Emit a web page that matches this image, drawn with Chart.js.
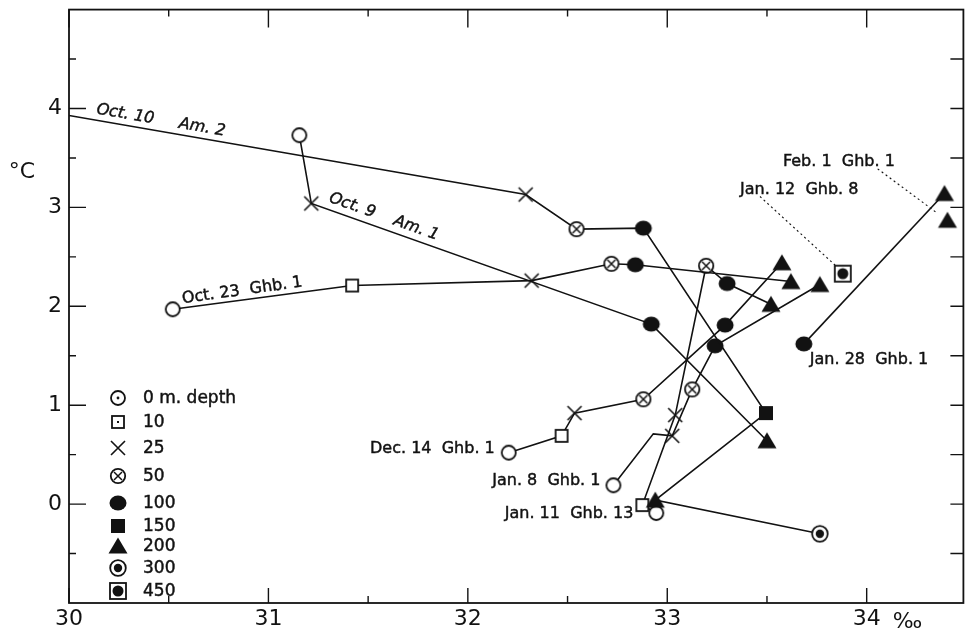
<!DOCTYPE html>
<html>
<head>
<meta charset="utf-8">
<script src="https://cdn.jsdelivr.net/npm/chart.js@4.4.1/dist/chart.umd.min.js"></script>
<style>
html, body { margin: 0; padding: 0; background: #fff; }
</style>
</head>
<body>
<canvas id="chart" width="973" height="635"></canvas>
<script>
// depth classes shown in the key
const depths = [0, 10, 25, 50, 100, 150, 200, 300, 450];
const depthNames = ["0 m. depth", "10", "25", "50", "100", "150", "200", "300", "450"];

// salinity (per mille), temperature (deg C), depth (m); null depth = bend in the line, no marker
const oct10Sal = [30.0, 32.29, 32.545, 32.88, 33.495, 32.94, 33.765];
const oct10Temp = [3.93, 3.13, 2.78, 2.79, 0.92, 0.04, -0.30];
const oct10Depth = [null, 25, 50, 100, 150, 200, 300];

const oct9Sal = [31.155, 31.215, 32.92, 33.50];
const oct9Temp = [3.73, 3.04, 1.82, 0.64];
const oct9Depth = [0, 25, 100, 200];

const oct23Sal = [30.52, 31.42, 32.32, 32.72, 32.84, 33.62];
const oct23Temp = [1.97, 2.21, 2.26, 2.43, 2.42, 2.25];
const oct23Depth = [0, 10, 25, 50, 100, 200];

const dec14Sal = [32.205, 32.47, 32.535, 32.88, 33.29, 33.575];
const dec14Temp = [0.52, 0.69, 0.92, 1.06, 1.81, 2.44];
const dec14Depth = [0, 10, 25, 50, 100, 200];

const jan8Sal = [32.73, 32.93, 33.025, 33.125, 33.24, 33.765];
const jan8Temp = [0.19, 0.71, 0.69, 1.16, 1.60, 2.22];
const jan8Depth = [0, null, 25, 50, 100, 200];

const jan11Sal = [32.945, 32.875, 33.04, 33.195, 33.30, 33.52];
const jan11Temp = [-0.09, -0.01, 0.90, 2.41, 2.23, 2.02];
const jan11Depth = [0, 10, 25, 50, 100, 200];

const jan12Sal = [33.88];
const jan12Temp = [2.33];
const jan12Depth = [450];

const jan28Sal = [33.685, 34.39];
const jan28Temp = [1.62, 3.14];
const jan28Depth = [100, 200];

const feb1Sal = [34.405];
const feb1Temp = [2.87];
const feb1Depth = [200];

// dotted leaders from the two labels to their points
const jan12LeaderSal = [33.465, 33.845];
const jan12LeaderTemp = [3.11, 2.41];
const feb1LeaderSal = [34.055, 34.355];
const feb1LeaderTemp = [3.39, 2.94];

const xTicks = [30, 31, 32, 33, 34];
const yTicks = [0, 1, 2, 3, 4];

const ink = "#121212";
const fontFamily = '"DejaVu Sans", "Liberation Sans", sans-serif';

// station labels, anchored in data units
const notes = [
    { text: "Oct. 10     Am. 2", x: 30.135, y: 3.95, angle: 9.8, align: "left", italic: true },
    { text: "Oct. 9    Am. 1", x: 31.30, y: 3.06, angle: 19.5, align: "left", italic: true },
    { text: "Oct. 23  Ghb. 1", x: 30.57, y: 2.03, angle: -8, align: "left" },
    { text: "Dec. 14  Ghb. 1", x: 32.135, y: 0.52, angle: 0, align: "right" },
    { text: "Jan. 8  Ghb. 1", x: 32.665, y: 0.19, angle: 0, align: "right" },
    { text: "Jan. 11  Ghb. 13", x: 32.83, y: -0.14, angle: 0, align: "right" },
    { text: "Feb. 1  Ghb. 1", x: 33.58, y: 3.42, angle: 0, align: "left" },
    { text: "Jan. 12  Ghb. 8", x: 33.365, y: 3.14, angle: 0, align: "left" },
    { text: "Jan. 28  Ghb. 1", x: 33.715, y: 1.42, angle: 0, align: "left" }
];

function makeMarker(depth, forKey) {
    const c = document.createElement("canvas");
    c.width = 22; c.height = 22;
    const g = c.getContext("2d");
    const m = 11;
    g.strokeStyle = ink; g.fillStyle = ink; g.lineWidth = 1.8;
    if (depth === 0) {
        g.beginPath(); g.arc(m, m, 7, 0, Math.PI * 2);
        g.fillStyle = "#fff"; g.fill(); g.stroke();
        if (forKey) { g.fillStyle = ink; g.beginPath(); g.arc(m, m, 1.4, 0, Math.PI * 2); g.fill(); }
    } else if (depth === 10) {
        g.fillStyle = "#fff"; g.fillRect(m - 6, m - 6, 12, 12);
        g.strokeRect(m - 6, m - 6, 12, 12);
        if (forKey) { g.fillStyle = ink; g.fillRect(m - 1, m - 1, 2, 2); }
    } else if (depth === 25) {
        g.lineWidth = 1.6;
        g.beginPath();
        g.moveTo(m - 7, m - 7); g.lineTo(m + 7, m + 7);
        g.moveTo(m + 7, m - 7); g.lineTo(m - 7, m + 7);
        g.stroke();
    } else if (depth === 50) {
        g.beginPath(); g.arc(m, m, 7.2, 0, Math.PI * 2);
        g.fillStyle = "#fff"; g.fill(); g.stroke();
        g.lineWidth = 1.5;
        g.beginPath();
        g.moveTo(m - 4, m - 4); g.lineTo(m + 4, m + 4);
        g.moveTo(m + 4, m - 4); g.lineTo(m - 4, m + 4);
        g.stroke();
    } else if (depth === 100) {
        g.beginPath(); g.ellipse(m, m, 8.5, 7.5, 0, 0, Math.PI * 2); g.fill();
    } else if (depth === 150) {
        g.fillRect(m - 7, m - 7, 14, 14);
    } else if (depth === 200) {
        g.beginPath();
        g.moveTo(m, m - 8.5); g.lineTo(m + 9.5, m + 7.5); g.lineTo(m - 9.5, m + 7.5);
        g.closePath(); g.fill();
    } else if (depth === 300) {
        g.beginPath(); g.arc(m, m, 7.8, 0, Math.PI * 2);
        g.fillStyle = "#fff"; g.fill(); g.stroke();
        g.fillStyle = ink; g.beginPath(); g.arc(m, m, 4.2, 0, Math.PI * 2); g.fill();
    } else if (depth === 450) {
        g.fillStyle = "#fff"; g.fillRect(m - 8, m - 8, 16, 16);
        g.strokeRect(m - 8, m - 8, 16, 16);
        g.fillStyle = ink; g.beginPath(); g.arc(m, m, 5.5, 0, Math.PI * 2); g.fill();
    }
    return c;
}

const markers = {};
const keyMarkers = {};
depths.forEach(d => { markers[d] = makeMarker(d, false); keyMarkers[d] = makeMarker(d, true); });

function station(label, sal, temp, depth) {
    return {
        label: label,
        data: sal.map((s, i) => ({ x: s, y: temp[i] })),
        showLine: true,
        borderColor: ink,
        borderWidth: 1.6,
        pointStyle: depth.map(d => d === null ? "circle" : markers[d]),
        pointRadius: depth.map(d => d === null ? 0 : 8)
    };
}

function leader(sal, temp) {
    return {
        label: "leader",
        data: sal.map((s, i) => ({ x: s, y: temp[i] })),
        showLine: true,
        borderColor: ink,
        borderWidth: 1.1,
        borderDash: [2, 3],
        pointRadius: 0
    };
}

const datasets = [
    station("Oct. 10 Am. 2", oct10Sal, oct10Temp, oct10Depth),
    station("Oct. 9 Am. 1", oct9Sal, oct9Temp, oct9Depth),
    station("Oct. 23 Ghb. 1", oct23Sal, oct23Temp, oct23Depth),
    station("Dec. 14 Ghb. 1", dec14Sal, dec14Temp, dec14Depth),
    station("Jan. 8 Ghb. 1", jan8Sal, jan8Temp, jan8Depth),
    station("Jan. 11 Ghb. 13", jan11Sal, jan11Temp, jan11Depth),
    station("Jan. 12 Ghb. 8", jan12Sal, jan12Temp, jan12Depth),
    station("Jan. 28 Ghb. 1", jan28Sal, jan28Temp, jan28Depth),
    station("Feb. 1 Ghb. 1", feb1Sal, feb1Temp, feb1Depth),
    leader(jan12LeaderSal, jan12LeaderTemp),
    leader(feb1LeaderSal, feb1LeaderTemp)
];

// slightly heavier text, like pen lettering
function inkText(ctx, text, x, y) {
    ctx.fillText(text, x, y);
    ctx.lineWidth = 0.45;
    ctx.strokeStyle = ink;
    ctx.strokeText(text, x, y);
}

// frame with inward ticks on all four sides
const framePlugin = {
    id: "frame",
    beforeDatasetsDraw(chart) {
        const { ctx, chartArea: a, scales: { x, y } } = chart;
        ctx.save();
        ctx.strokeStyle = ink;
        ctx.lineWidth = 1.8;
        ctx.strokeRect(a.left, a.top, a.right - a.left, a.bottom - a.top);
        ctx.lineWidth = 1.4;
        ctx.beginPath();
        for (let v = 30; v <= 34.5; v += 0.5) {
            const px = x.getPixelForValue(v);
            if (px > a.right - 2) continue;
            const major = Number.isInteger(v);
            ctx.moveTo(px, a.bottom); ctx.lineTo(px, a.bottom - (major ? 15 : 7));
            ctx.moveTo(px, a.top); ctx.lineTo(px, a.top + (major ? 18 : 7));
        }
        for (let v = -0.5; v < 5; v += 0.5) {
            const py = y.getPixelForValue(v);
            const major = Number.isInteger(v);
            ctx.moveTo(a.left, py); ctx.lineTo(a.left + (major ? 17 : 7), py);
            ctx.moveTo(a.right, py); ctx.lineTo(a.right - 13, py);
        }
        ctx.stroke();

        ctx.fillStyle = ink;
        ctx.font = "22px " + fontFamily;
        ctx.textBaseline = "middle";
        ctx.textAlign = "center";
        ctx.fillText("\u00B0C", 22, 172);
        ctx.textAlign = "left";
        ctx.textBaseline = "alphabetic";
        ctx.fillText("\u2030", x.getPixelForValue(34) + 26, a.bottom + 25);
        ctx.restore();
    },
    afterDatasetsDraw(chart) {
        const { ctx, chartArea: a, scales: { x, y } } = chart;
        ctx.save();
        ctx.fillStyle = ink;
        notes.forEach(n => {
            ctx.save();
            ctx.translate(x.getPixelForValue(n.x), y.getPixelForValue(n.y));
            ctx.rotate(n.angle * Math.PI / 180);
            ctx.font = (n.italic ? "italic " : "") + "16px " + fontFamily;
            ctx.textAlign = n.align;
            ctx.textBaseline = "alphabetic";
            inkText(ctx, n.text, 0, 0);
            ctx.restore();
        });

        // depth key
        const keyRows = [398, 422, 448, 476, 503, 526, 546, 568, 591];
        ctx.font = "17px " + fontFamily;
        ctx.textAlign = "left";
        ctx.textBaseline = "middle";
        depths.forEach((d, i) => {
            const img = keyMarkers[d];
            ctx.drawImage(img, a.left + 49 - img.width / 2, keyRows[i] - img.height / 2);
            inkText(ctx, depthNames[i], a.left + 74, keyRows[i] + 1);
        });
        ctx.restore();
    }
};

new Chart(document.getElementById("chart"), {
    type: "scatter",
    data: { datasets: datasets },
    options: {
        responsive: false,
        devicePixelRatio: 1,
        animation: false,
        events: [],
        layout: { padding: { top: 8, right: 7, left: 0, bottom: 0 } },
        plugins: { legend: { display: false }, tooltip: { enabled: false } },
        scales: {
            x: {
                type: "linear",
                min: 30,
                max: 34.485,
                grid: { display: false, drawTicks: false },
                border: { display: false },
                afterFit(s) { s.height = 32; s.paddingLeft = 0; s.paddingRight = 0; },
                afterBuildTicks(s) { s.ticks = xTicks.map(v => ({ value: v })); },
                ticks: {
                    color: ink,
                    padding: 3,
                    maxRotation: 0,
                    autoSkip: false,
                    font: { family: fontFamily, size: 22 },
                    callback: v => String(v)
                }
            },
            y: {
                type: "linear",
                min: -1,
                max: 5,
                grid: { display: false, drawTicks: false },
                border: { display: false },
                afterFit(s) { s.width = 69; s.paddingTop = 0; s.paddingBottom = 0; },
                afterBuildTicks(s) { s.ticks = yTicks.map(v => ({ value: v })); },
                ticks: {
                    color: ink,
                    padding: 7,
                    autoSkip: false,
                    font: { family: fontFamily, size: 22 },
                    callback: v => String(v)
                }
            }
        }
    },
    plugins: [framePlugin]
});
</script>
</body>
</html>
